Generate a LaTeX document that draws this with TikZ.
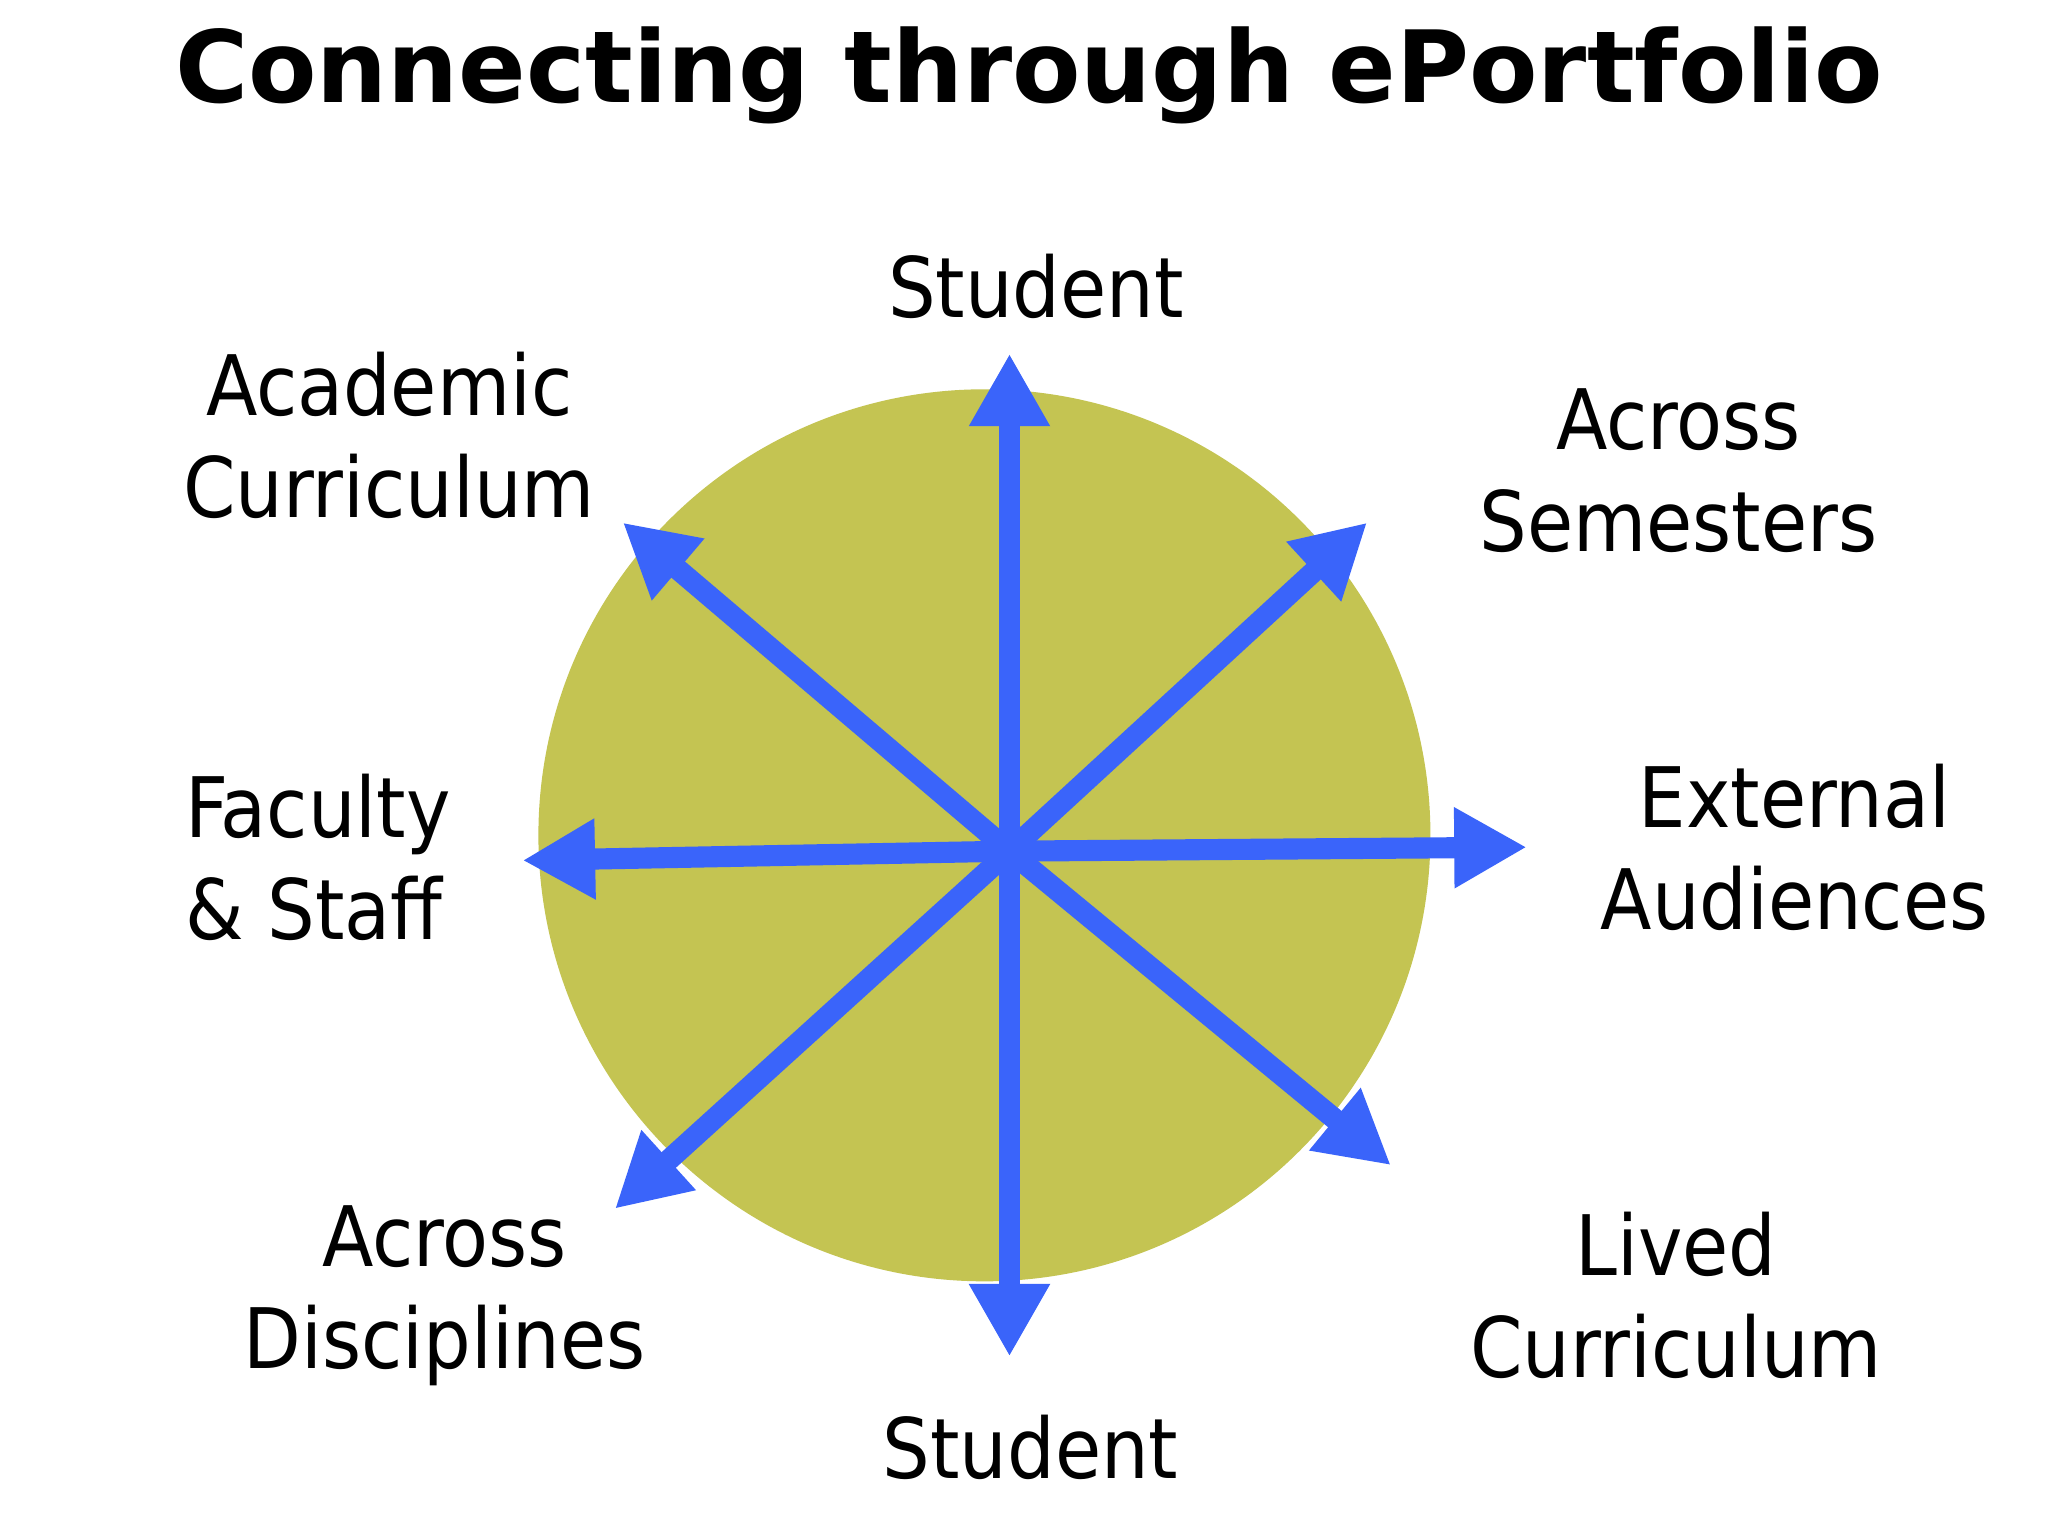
\documentclass[tikz,border=0pt]{standalone}
\usepackage{fontspec}
\setmainfont{DejaVu Sans}
\newfontfamily\condf{DejaVu Sans Condensed}
\usetikzlibrary{arrows.meta}
\definecolor{disc}{RGB}{196,196,82}
\definecolor{arr}{RGB}{58,100,250}
\tikzset{
 lab/.style={font=\condf\fontsize{36}{44}\selectfont, align=center, inner sep=0pt},
 arrow/.style={draw=arr, line width=0.32cm, -{Triangle[length=1.1cm,width=1.15cm]}, shorten <=-0.16cm}
}
\begin{document}
\begin{tikzpicture}[x=0.02cm,y=-0.02cm]
\useasboundingbox (0,0) rectangle (1552,1164);
\fill[white] (0,0) rectangle (1552,1164);
\node[font=\fontsize{43}{48}\bfseries\selectfont, inner sep=0pt] (title) at (780,57) {Connecting through ePortfolio};
\fill[disc] (746,633) circle (338);
\coordinate (c) at (765,645);
\coordinate (tu) at (765,268);
\coordinate (td) at (765,1028);
\coordinate (tul) at (472,396);
\coordinate (tur) at (1036,396);
\coordinate (tl) at (396,652);
\coordinate (tr) at (1157,642);
\coordinate (tdl) at (466,916);
\coordinate (tdr) at (1054,883);
\foreach \t in {tu,td,tul,tur,tl,tr,tdl,tdr} \draw[arrow] (c) -- (\t);
\node[lab] (s1) at (785,217) {Student};
\node[lab] (ac) at (295,330) {Academic\\Curriculum};
\node[lab] (as) at (1272,357) {Across\\Semesters};
\node[lab, align=left, anchor=west] (fs) at (140,650) {Faculty\\\& Staff};
\node[lab] (ea) at (1360,642) {External\\Audiences};
\node[lab] (ad) at (337,982) {Across\\Disciplines};
\node[lab] (s2) at (781,1097) {Student};
\node[lab] (lc) at (1270,982) {Lived\\Curriculum};
\end{tikzpicture}
\end{document}
